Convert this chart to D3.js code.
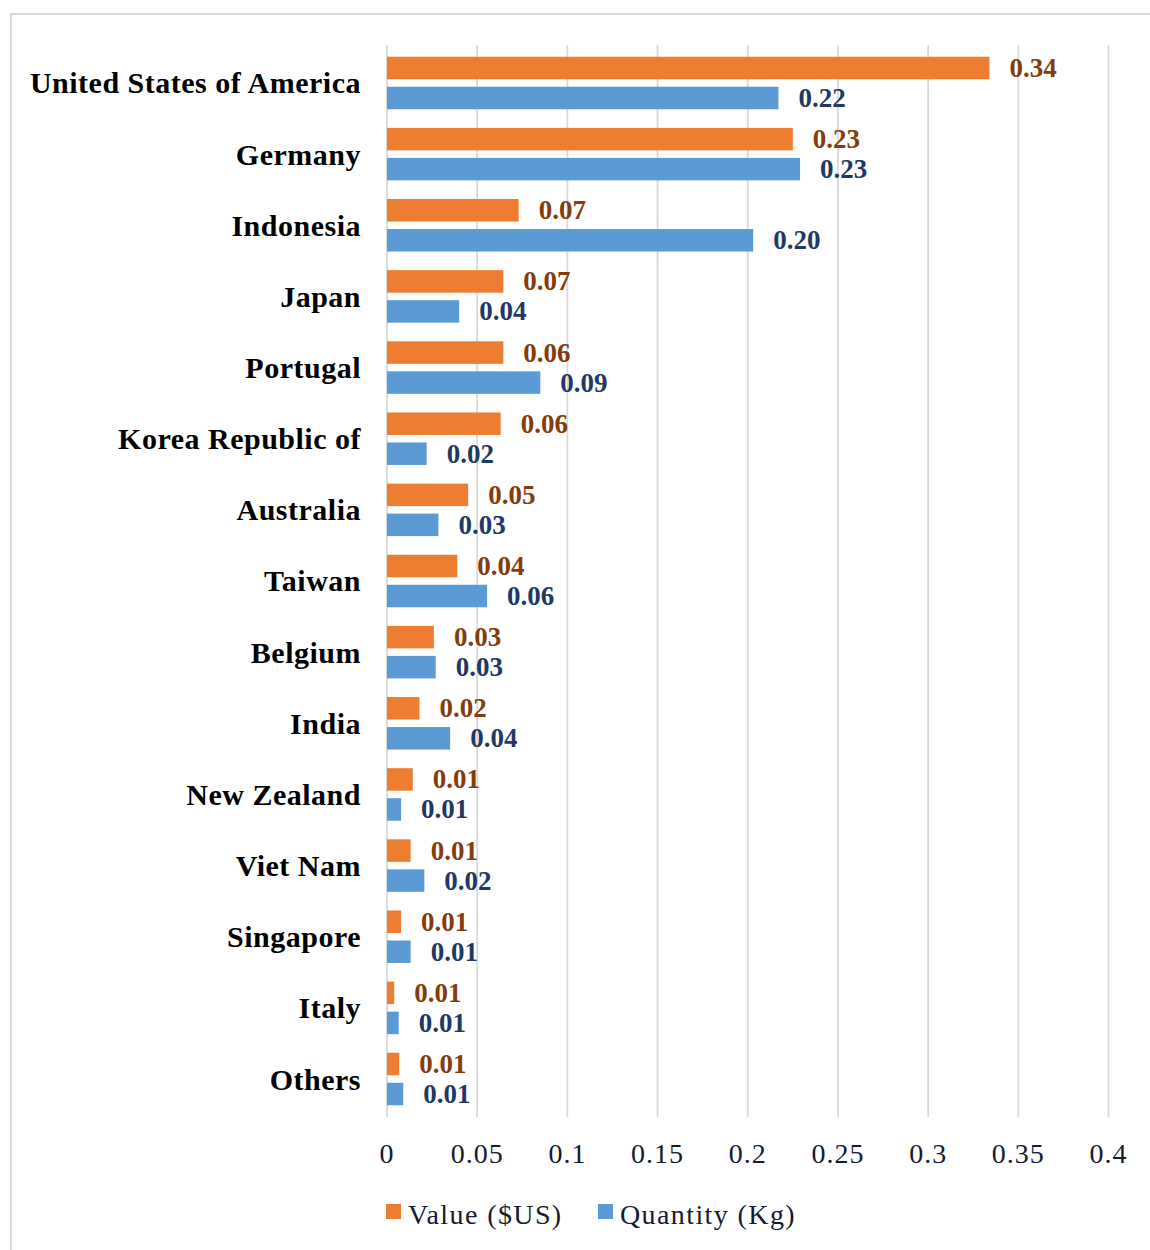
<!DOCTYPE html>
<html>
<head>
<meta charset="utf-8">
<script src="https://cdn.jsdelivr.net/npm/d3@7"></script>
<style>
  body { margin: 0; background: #fff; }
  svg text { font-family: "Liberation Serif", "DejaVu Serif", serif; }
</style>
</head>
<body>
<script>
'use strict';

(function() {

// data
const countries = ["United States of America", "Germany", "Indonesia", "Japan", "Portugal",
  "Korea Republic of", "Australia", "Taiwan", "Belgium", "India", "New Zealand",
  "Viet Nam", "Singapore", "Italy", "Others"];
const valueUS = [0.334, 0.225, 0.073, 0.0645, 0.0645, 0.063, 0.045, 0.039, 0.026, 0.018,
  0.0143, 0.0131, 0.0078, 0.004, 0.0068];
const quantityKg = [0.217, 0.229, 0.203, 0.040, 0.085, 0.022, 0.0285, 0.0555, 0.027, 0.035,
  0.0078, 0.0207, 0.0131, 0.0065, 0.009];
const valueLabels = ["0.34", "0.23", "0.07", "0.07", "0.06", "0.06", "0.05", "0.04", "0.03",
  "0.02", "0.01", "0.01", "0.01", "0.01", "0.01"];
const quantityLabels = ["0.22", "0.23", "0.20", "0.04", "0.09", "0.02", "0.03", "0.06", "0.03",
  "0.04", "0.01", "0.02", "0.01", "0.01", "0.01"];
const xTicks = [0, 0.05, 0.1, 0.15, 0.2, 0.25, 0.3, 0.35, 0.4];
const seriesNames = ["Value ($US)", "Quantity (Kg)"];

const width = 1150;
const height = 1250;
const colors = ["#ED7D31", "#5B9BD5"];
const labelColors = ["#843C0C", "#1F3864"];

let svg = d3.select('body').append('svg')
    .attr('width', width)
    .attr('height', height);

// outer chart border
svg.append('rect')
    .attr('x', 11).attr('y', 14)
    .attr('width', 1300).attr('height', 1400)
    .style('fill', 'none')
    .style('stroke', '#d9d9d9')
    .style('stroke-width', 2);

let x = d3.scaleLinear()
    .domain([0, 0.4])
    .range([387, 1108.5]);

let y = d3.scaleBand()
    .domain(countries)
    .range([45, 1117])
    .paddingInner(0.262)
    .paddingOuter(0.165);

let ySub = d3.scaleBand()
    .domain([0, 1])
    .range([0, y.bandwidth()])
    .paddingInner(0.25);

// vertical gridlines
svg.append('g')
    .selectAll('line')
    .data(xTicks).enter()
    .append('line')
    .attr('x1', d => x(d)).attr('x2', d => x(d))
    .attr('y1', 45).attr('y2', 1117)
    .style('stroke', '#d9d9d9')
    .style('stroke-width', 1.8);

// tick labels
svg.append('g')
    .selectAll('text')
    .data(xTicks).enter()
    .append('text')
    .attr('x', d => x(d))
    .attr('y', 1163)
    .attr('text-anchor', 'middle')
    .style('font-size', '28px')
    .style('letter-spacing', '1px')
    .style('fill', '#151a30')
    .text(d => d3.format('~g')(d));

let rows = countries.map((c, i) => ({
  country: c,
  vals: [valueUS[i], quantityKg[i]],
  labels: [valueLabels[i], quantityLabels[i]]
}));

let groups = svg.append('g')
    .selectAll('g')
    .data(rows).enter()
    .append('g')
    .attr('transform', d => 'translate(0,' + y(d.country) + ')');

groups.selectAll('rect')
    .data(d => d.vals.map((v, k) => ({ v: v, k: k }))).enter()
    .append('rect')
    .attr('x', x(0))
    .attr('y', d => ySub(d.k))
    .attr('width', d => x(d.v) - x(0))
    .attr('height', ySub.bandwidth())
    .style('fill', d => colors[d.k]);

groups.selectAll('text.val')
    .data(d => d.vals.map((v, k) => ({ v: v, k: k, label: d.labels[k] }))).enter()
    .append('text')
    .attr('class', 'val')
    .attr('x', d => x(d.v) + 20)
    .attr('y', d => ySub(d.k) + ySub.bandwidth() / 2 + 9)
    .style('font-size', '27px')
    .style('font-weight', 'bold')
    .style('fill', d => labelColors[d.k])
    .text(d => d.label);

// category labels
groups.append('text')
    .attr('x', 361)
    .attr('y', y.bandwidth() / 2 + 10.5)
    .attr('text-anchor', 'end')
    .style('font-size', '30px')
    .style('font-weight', 'bold')
    .style('letter-spacing', '0.5px')
    .style('fill', '#000')
    .text(d => d.country);

// legend
let legend = svg.append('g')
    .selectAll('g')
    .data(seriesNames).enter()
    .append('g')
    .attr('transform', (d, i) => 'translate(' + [386, 598][i] + ',1204)');

legend.append('rect')
    .attr('width', 15).attr('height', 15)
    .style('fill', (d, i) => colors[i]);

legend.append('text')
    .attr('x', 22)
    .attr('y', 20)
    .style('font-size', '28px')
    .style('letter-spacing', '1.4px')
    .style('fill', '#151a30')
    .text(d => d);

})();
</script>
</body>
</html>
